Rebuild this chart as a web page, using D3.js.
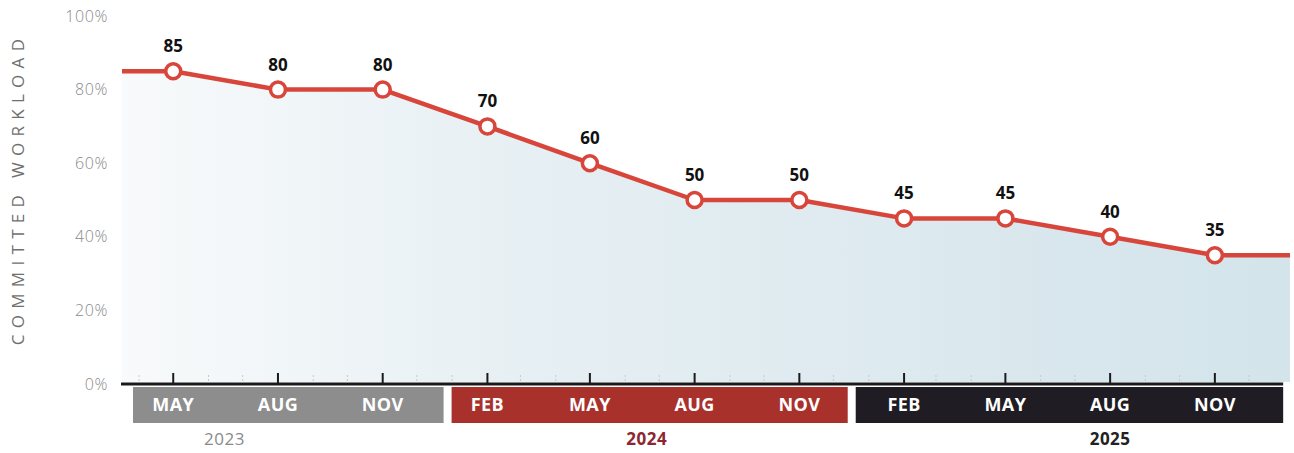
<!DOCTYPE html>
<html>
<head>
<meta charset="utf-8">
<script src="https://cdn.jsdelivr.net/npm/d3@7"></script>
<style>
  html, body { margin: 0; padding: 0; background: #fff; }
  svg { display: block; }
</style>
</head>
<body>
<svg id="chart" width="1294" height="453"></svg>
<script>
// Quarterly committed workload, percent
const dates = ["2023-05-01", "2023-08-01", "2023-11-01", "2024-02-01", "2024-05-01", "2024-08-01",
               "2024-11-01", "2025-02-01", "2025-05-01", "2025-08-01", "2025-11-01"];
const workload = [85, 80, 80, 70, 60, 50, 50, 45, 45, 40, 35];
const monthLabels = ["MAY", "AUG", "NOV", "FEB", "MAY", "AUG", "NOV", "FEB", "MAY", "AUG", "NOV"];
const years = ["2023", "2024", "2025"];
const yearAnchors = ["2023-06-15", "2024-06-20", "2025-08-01"];
const yearBreaks = ["2023-12-28", "2024-12-17"];
const yTicks = [0, 20, 40, 60, 80, 100];

const parse = d3.utcParse("%Y-%m-%d");
const points = dates.map((d, i) => ({ date: parse(d), value: workload[i], label: monthLabels[i], year: d.slice(0, 4) }));

const svg = d3.select("#chart");

const x = d3.scaleUtc()
  .domain([parse("2023-03-17"), parse("2026-01-06")])
  .range([122, 1290]);
const y = d3.scaleLinear().domain([0, 100]).range([384, 16]);

const axisEnd = x(parse("2025-12-31"));
const baseY = y(0);
const font = "'Open Sans', sans-serif";

// Series extended flat to both edges of the time domain
const series = [{ date: x.domain()[0], value: workload[0] }, ...points,
                { date: x.domain()[1], value: workload[workload.length - 1] }];

// Area fill gradient
const defs = svg.append("defs");
const grad = defs.append("linearGradient").attr("id", "areaGrad")
  .attr("x1", "0%").attr("x2", "100%").attr("y1", "0%").attr("y2", "0%");
grad.append("stop").attr("offset", "0%").attr("stop-color", "#f8fafb");
grad.append("stop").attr("offset", "35%").attr("stop-color", "#e6eff3");
grad.append("stop").attr("offset", "100%").attr("stop-color", "#d3e4eb");

svg.append("path")
  .datum(series)
  .attr("fill", "url(#areaGrad)")
  .attr("d", d3.area().x(d => x(d.date)).y0(baseY - 2).y1(d => y(d.value)));

// Y axis labels
svg.append("g")
  .selectAll("text")
  .data(yTicks)
  .join("text")
  .attr("x", 108)
  .attr("y", d => y(d))
  .attr("dy", "0.35em")
  .attr("text-anchor", "end")
  .attr("font-family", font)
  .attr("font-weight", 300)
  .attr("font-size", 16)
  .attr("letter-spacing", 0.6)
  .attr("fill", "#8a8a8a")
  .text(d => d + "%");

// Y axis title
svg.append("text")
  .attr("transform", `translate(24,${189}) rotate(-90)`)
  .attr("text-anchor", "middle")
  .attr("font-family", font)
  .attr("font-weight", 400)
  .attr("font-size", 17)
  .attr("letter-spacing", 6.3)
  .attr("fill", "#6f6f6f")
  .text("COMMITTED WORKLOAD");

// Minor monthly ticks
const months = d3.utcMonth.range(parse("2023-04-01"), parse("2026-01-01"));
svg.append("g")
  .selectAll("line")
  .data(months.filter(m => !points.some(p => +p.date === +m)))
  .join("line")
  .attr("x1", d => x(d)).attr("x2", d => x(d))
  .attr("y1", baseY - 9).attr("y2", baseY - 2)
  .attr("stroke", "#c8c8c8")
  .attr("stroke-width", 1)
  .attr("stroke-dasharray", "2,2");

// Baseline and quarter ticks
svg.append("line")
  .attr("x1", x.range()[0] - 1).attr("x2", axisEnd)
  .attr("y1", baseY).attr("y2", baseY)
  .attr("stroke", "#1a1a1a").attr("stroke-width", 3);

svg.append("g")
  .selectAll("line")
  .data(points)
  .join("line")
  .attr("x1", d => x(d.date)).attr("x2", d => x(d.date))
  .attr("y1", baseY - 11).attr("y2", baseY)
  .attr("stroke", "#1a1a1a").attr("stroke-width", 2);

// Year bands
const bandColors = { "2023": "#8d8d8d", "2024": "#a8312c", "2025": "#1f1d23" };
const yearLabelColors = { "2023": "#8a8a8a", "2024": "#8c2630", "2025": "#222222" };
const yearLabelWeights = { "2023": 400, "2024": 700, "2025": 700 };
const bandTop = baseY + 3, bandBottom = baseY + 39;

const breaksX = yearBreaks.map(d => x(parse(d)));
const bands = years.map((yr, i) => ({
  year: yr,
  x0: i === 0 ? x.range()[0] + 11 : breaksX[i - 1] + 4,
  x1: i === years.length - 1 ? axisEnd : breaksX[i] - 4
}));

svg.append("g")
  .selectAll("rect")
  .data(bands)
  .join("rect")
  .attr("x", d => d.x0)
  .attr("y", bandTop)
  .attr("width", d => d.x1 - d.x0)
  .attr("height", bandBottom - bandTop)
  .attr("fill", d => bandColors[d.year]);

svg.append("g")
  .selectAll("text")
  .data(points)
  .join("text")
  .attr("x", d => x(d.date))
  .attr("y", (bandTop + bandBottom) / 2)
  .attr("dy", "0.36em")
  .attr("text-anchor", "middle")
  .attr("font-family", font)
  .attr("font-weight", 700)
  .attr("font-size", 18)
  .attr("letter-spacing", 0.4)
  .attr("fill", "#ffffff")
  .text(d => d.label);

svg.append("g")
  .selectAll("text")
  .data(years)
  .join("text")
  .attr("x", (d, i) => x(parse(yearAnchors[i])))
  .attr("y", bandBottom + 16)
  .attr("dy", "0.35em")
  .attr("text-anchor", "middle")
  .attr("font-family", font)
  .attr("font-weight", d => yearLabelWeights[d])
  .attr("font-size", 17)
  .attr("letter-spacing", 0.5)
  .attr("fill", d => yearLabelColors[d])
  .text(d => d);

// Line and markers
svg.append("path")
  .datum(series)
  .attr("fill", "none")
  .attr("stroke", "#d8453a")
  .attr("stroke-width", 4.5)
  .attr("stroke-linejoin", "round")
  .attr("d", d3.line().x(d => x(d.date)).y(d => y(d.value)));

svg.append("g")
  .selectAll("circle")
  .data(points)
  .join("circle")
  .attr("cx", d => x(d.date))
  .attr("cy", d => y(d.value))
  .attr("r", 7.5)
  .attr("fill", "#ffffff")
  .attr("stroke", "#d8453a")
  .attr("stroke-width", 3.5);

svg.append("g")
  .selectAll("text")
  .data(points)
  .join("text")
  .attr("x", d => x(d.date))
  .attr("y", d => y(d.value) - 25)
  .attr("dy", "0.35em")
  .attr("text-anchor", "middle")
  .attr("font-family", font)
  .attr("font-weight", 700)
  .attr("font-size", 17)
  .attr("fill", "#111111")
  .text(d => d.value);
</script>
</body>
</html>
